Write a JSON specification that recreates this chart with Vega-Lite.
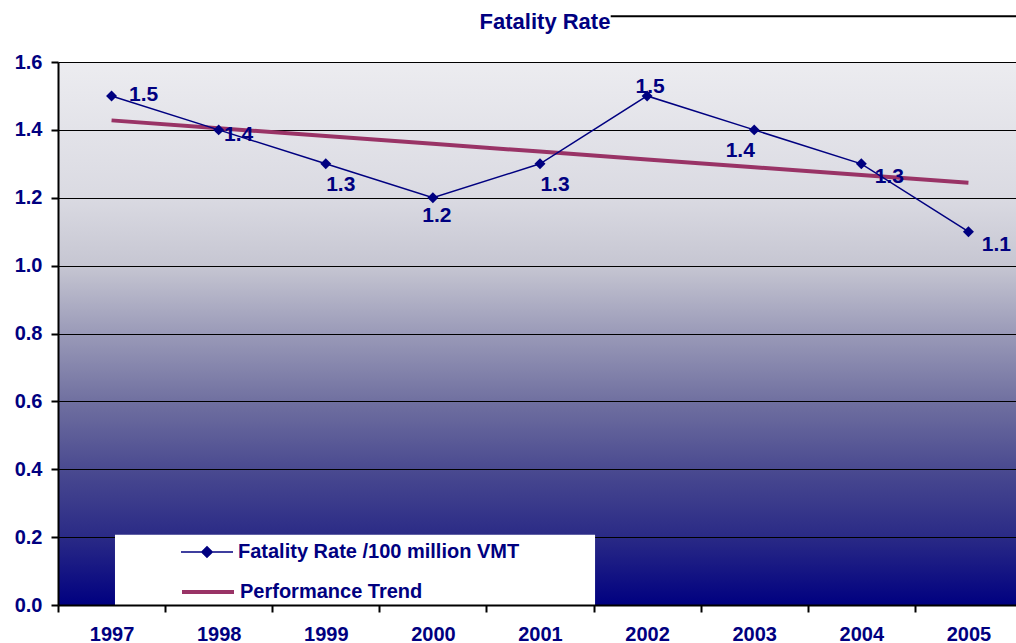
{
  "$schema": "https://vega.github.io/schema/vega-lite/v6.json",
  "width": 958,
  "height": 543,
  "autosize": {"type": "none"},
  "padding": {"left": 58, "top": 62, "right": 0, "bottom": 38},
  "background": "#ffffff",
  "title": {
    "text": "Fatality Rate",
    "font": "Liberation Sans",
    "fontSize": 22,
    "fontWeight": "bold",
    "color": "#000080",
    "anchor": "middle",
    "offset": -19,
    "dx": 8
  },
  "config": {
    "view": {
      "stroke": null,
      "fill": {
        "gradient": "linear",
        "x1": 0, "y1": 0, "x2": 0, "y2": 1,
        "stops": [
          {"offset": 0, "color": "#ececf0"},
          {"offset": 0.25, "color": "#dadae2"},
          {"offset": 0.375, "color": "#c6c6d2"},
          {"offset": 0.5, "color": "#9a9ab8"},
          {"offset": 0.625, "color": "#7070a0"},
          {"offset": 0.75, "color": "#4a4a90"},
          {"offset": 0.875, "color": "#2a2a86"},
          {"offset": 1, "color": "#000080"}
        ]
      }
    },
    "axisY": {
      "title": null,
      "format": ".1f",
      "tickCount": 8,
      "grid": true,
      "gridColor": "#000000",
      "gridWidth": 1,
      "gridOpacity": 1,
      "domainColor": "#000000",
      "domainWidth": 2,
      "tickColor": "#000000",
      "tickWidth": 2,
      "tickSize": 7,
      "labelFont": "Liberation Sans",
      "labelFontSize": 20,
      "labelFontWeight": "bold",
      "labelColor": "#000080",
      "labelPadding": 9
    },
    "legend": {
      "orient": "none",
      "title": null,
      "padding": 0,
      "symbolSize": 676,
      "labelFont": "Liberation Sans",
      "labelFontSize": 20,
      "labelFontWeight": "bold",
      "labelColor": "#000080",
      "labelOffset": 17,
      "labelLimit": 600
    }
  },
  "datasets": {
    "rates": [
      {"year": "1997", "series": "Fatality Rate /100 million VMT", "value": 1.5},
      {"year": "1998", "series": "Fatality Rate /100 million VMT", "value": 1.4},
      {"year": "1999", "series": "Fatality Rate /100 million VMT", "value": 1.3},
      {"year": "2000", "series": "Fatality Rate /100 million VMT", "value": 1.2},
      {"year": "2001", "series": "Fatality Rate /100 million VMT", "value": 1.3},
      {"year": "2002", "series": "Fatality Rate /100 million VMT", "value": 1.5},
      {"year": "2003", "series": "Fatality Rate /100 million VMT", "value": 1.4},
      {"year": "2004", "series": "Fatality Rate /100 million VMT", "value": 1.3},
      {"year": "2005", "series": "Fatality Rate /100 million VMT", "value": 1.1},
      {"year": "1997", "series": "Performance Trend", "value": 1.428},
      {"year": "1998", "series": "Performance Trend", "value": 1.405},
      {"year": "1999", "series": "Performance Trend", "value": 1.382},
      {"year": "2000", "series": "Performance Trend", "value": 1.359},
      {"year": "2001", "series": "Performance Trend", "value": 1.336},
      {"year": "2002", "series": "Performance Trend", "value": 1.313},
      {"year": "2003", "series": "Performance Trend", "value": 1.290},
      {"year": "2004", "series": "Performance Trend", "value": 1.267},
      {"year": "2005", "series": "Performance Trend", "value": 1.244}
    ],
    "legendBox": [
      {"from": 0.532, "to": 5.014, "low": 0, "high": 0.207}
    ],
    "titleRule": [
      {"from": 5.16, "to": 9.1, "level": 1.735}
    ]
  },
  "resolve": {"scale": {"x": "independent"}},
  "layer": [
    {
      "data": {"name": "legendBox"},
      "mark": {"type": "rect", "fill": "#ffffff"},
      "encoding": {
        "x": {"field": "from", "type": "quantitative", "scale": {"domain": [0, 9], "range": [0, 964], "nice": false, "zero": false}, "axis": null},
        "x2": {"field": "to"},
        "y": {"field": "low", "type": "quantitative", "scale": {"domain": [0, 1.6], "nice": false}, "axis": {"title": null}},
        "y2": {"field": "high"}
      }
    },
    {
      "data": {"name": "titleRule"},
      "mark": {"type": "rule", "color": "#000000", "strokeWidth": 2, "clip": false},
      "encoding": {
        "x": {"field": "from", "type": "quantitative", "scale": {"domain": [0, 9], "range": [0, 964], "nice": false, "zero": false}, "axis": null},
        "x2": {"field": "to"},
        "y": {"field": "level", "type": "quantitative", "scale": {"domain": [0, 1.6], "nice": false}, "axis": {"title": null}}
      }
    },
    {
      "data": {"name": "rates"},
      "encoding": {
        "x": {
          "field": "year",
          "type": "ordinal",
          "scale": {"type": "band", "paddingInner": 0, "paddingOuter": 0, "range": [0, 964]},
          "axis": {
            "title": null,
            "labelAngle": 0,
            "tickBand": "extent",
            "grid": false,
            "domainColor": "#000000",
            "domainWidth": 2,
            "tickColor": "#000000",
            "tickWidth": 2,
            "tickSize": 7,
            "labelFont": "Liberation Sans",
            "labelFontSize": 20,
            "labelFontWeight": "bold",
            "labelColor": "#000080",
            "labelPadding": 12,
            "zindex": 1
          }
        },
        "y": {"field": "value", "type": "quantitative", "scale": {"domain": [0, 1.6], "nice": false}, "axis": {"title": null}}
      },
      "layer": [
        {
          "transform": [{"filter": {"field": "series", "equal": "Performance Trend"}}],
          "mark": {"type": "line", "strokeWidth": 4},
          "encoding": {
            "color": {
              "field": "series",
              "type": "nominal",
              "scale": {"range": ["#993366"]},
              "legend": {"symbolType": "M-2,0H2", "symbolStrokeWidth": 4, "legendX": 135, "legendY": 515}
            }
          }
        },
        {
          "transform": [{"filter": {"field": "series", "equal": "Fatality Rate /100 million VMT"}}],
          "mark": {"type": "line", "strokeWidth": 1.5},
          "encoding": {
            "stroke": {
              "field": "series",
              "type": "nominal",
              "scale": {"range": ["#000080"]},
              "legend": {"symbolType": "M-2,0H2M0,-0.4L0.4,0L0,0.4L-0.4,0Z", "symbolFillColor": "#000080", "symbolStrokeWidth": 1.5, "legendX": 135, "legendY": 476}
            }
          }
        },
        {
          "transform": [{"filter": {"field": "series", "equal": "Fatality Rate /100 million VMT"}}],
          "mark": {"type": "point", "shape": "diamond", "filled": true, "size": 120, "color": "#000080", "opacity": 1}
        },
        {
          "transform": [{"filter": {"and": [{"field": "series", "equal": "Fatality Rate /100 million VMT"}, {"field": "year", "oneOf": ["1997"]}]}}],
          "mark": {"type": "text", "font": "Liberation Sans", "fontSize": 21, "fontWeight": "bold", "color": "#000080", "align": "center", "baseline": "middle", "dx": 32, "dy": -1},
          "encoding": {"text": {"field": "value", "type": "quantitative", "format": ".1f"}}
        },
        {
          "transform": [{"filter": {"and": [{"field": "series", "equal": "Fatality Rate /100 million VMT"}, {"field": "year", "oneOf": ["2004", "2005"]}]}}],
          "mark": {"type": "text", "font": "Liberation Sans", "fontSize": 21, "fontWeight": "bold", "color": "#000080", "align": "center", "baseline": "middle", "dx": 28, "dy": 13},
          "encoding": {"text": {"field": "value", "type": "quantitative", "format": ".1f"}}
        },
        {
          "transform": [{"filter": {"and": [{"field": "series", "equal": "Fatality Rate /100 million VMT"}, {"field": "year", "oneOf": ["1998"]}]}}],
          "mark": {"type": "text", "font": "Liberation Sans", "fontSize": 21, "fontWeight": "bold", "color": "#000080", "align": "center", "baseline": "middle", "dx": 20, "dy": 5},
          "encoding": {"text": {"field": "value", "type": "quantitative", "format": ".1f"}}
        },
        {
          "transform": [{"filter": {"and": [{"field": "series", "equal": "Fatality Rate /100 million VMT"}, {"field": "year", "oneOf": ["1999", "2001"]}]}}],
          "mark": {"type": "text", "font": "Liberation Sans", "fontSize": 21, "fontWeight": "bold", "color": "#000080", "align": "center", "baseline": "middle", "dx": 15, "dy": 21},
          "encoding": {"text": {"field": "value", "type": "quantitative", "format": ".1f"}}
        },
        {
          "transform": [{"filter": {"and": [{"field": "series", "equal": "Fatality Rate /100 million VMT"}, {"field": "year", "oneOf": ["2000"]}]}}],
          "mark": {"type": "text", "font": "Liberation Sans", "fontSize": 21, "fontWeight": "bold", "color": "#000080", "align": "center", "baseline": "middle", "dx": 4, "dy": 18},
          "encoding": {"text": {"field": "value", "type": "quantitative", "format": ".1f"}}
        },
        {
          "transform": [{"filter": {"and": [{"field": "series", "equal": "Fatality Rate /100 million VMT"}, {"field": "year", "oneOf": ["2002"]}]}}],
          "mark": {"type": "text", "font": "Liberation Sans", "fontSize": 21, "fontWeight": "bold", "color": "#000080", "align": "center", "baseline": "middle", "dx": 3, "dy": -9},
          "encoding": {"text": {"field": "value", "type": "quantitative", "format": ".1f"}}
        },
        {
          "transform": [{"filter": {"and": [{"field": "series", "equal": "Fatality Rate /100 million VMT"}, {"field": "year", "oneOf": ["2003"]}]}}],
          "mark": {"type": "text", "font": "Liberation Sans", "fontSize": 21, "fontWeight": "bold", "color": "#000080", "align": "center", "baseline": "middle", "dx": -14, "dy": 21},
          "encoding": {"text": {"field": "value", "type": "quantitative", "format": ".1f"}}
        }
      ]
    }
  ]
}
